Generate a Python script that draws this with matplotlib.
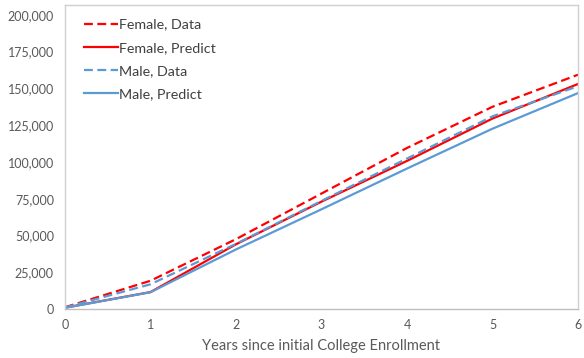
import numpy as np
import matplotlib.pyplot as plt
from matplotlib.ticker import FuncFormatter

plt.rcParams['font.family'] = ['Lato', 'DejaVu Sans']

## Data
years = [0, 1, 2, 3, 4, 5, 6]
female_data = [1200, 19200, 47500, 78500, 109500, 137500, 159300]
female_pred = [900, 11500, 44000, 73000, 100700, 129500, 153000]
male_data = [1000, 16800, 44300, 73500, 102300, 131000, 151500]
male_pred = [800, 11400, 40500, 67800, 95500, 122600, 146800]

red = '#FF0000'
blue = '#5B9BD5'
grey = '#595959'

fig = plt.figure(figsize=(5.84, 3.58), dpi=100)
ax = fig.add_axes([65 / 584, 1 - 309 / 358, 513 / 584, 304 / 358])

ax.plot(years, female_data, color=red, lw=1.6, dashes=(4, 2), label='Female, Data')
ax.plot(years, female_pred, color=red, lw=1.6, label='Female, Predict')
ax.plot(years, male_data, color=blue, lw=1.6, dashes=(4, 2), label='Male, Data')
ax.plot(years, male_pred, color=blue, lw=1.6, label='Male, Predict')

ax.set_xlim(0, 6)
ax.set_ylim(0, 206700)
ax.set_xticks(years)
ax.set_yticks(np.arange(0, 200001, 25000))
ax.yaxis.set_major_formatter(FuncFormatter(lambda v, p: f'{int(v):,}'))
ax.tick_params(length=0, labelsize=9, colors=grey, pad=8)
ax.tick_params(axis='x', pad=7)
for s in ax.spines.values():
    s.set_color('#D0D0D0')
    s.set_linewidth(1)
ax.spines['bottom'].set_color('#BFBFBF')

ax.set_xlabel('Years since initial College Enrollment', fontsize=10.5, color=grey, labelpad=6)

ax.legend(loc='upper left', frameon=False, fontsize=10.3, handlelength=2.4,
          handletextpad=0.1, labelspacing=0.78, borderaxespad=0.55,
          bbox_to_anchor=(0.01, 1.0), labelcolor='#404040')

plt.savefig('out.png')
